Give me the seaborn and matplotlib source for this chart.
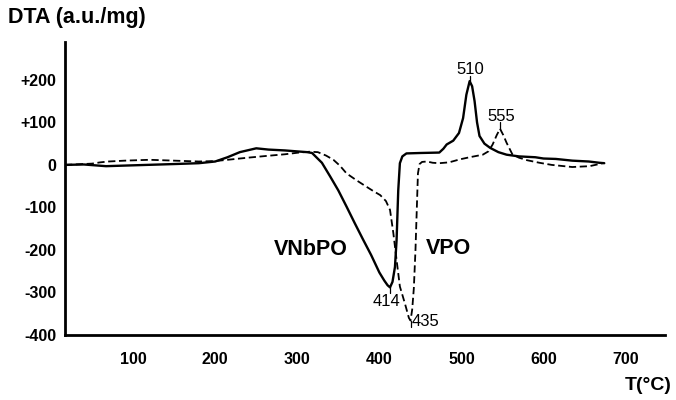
import matplotlib
matplotlib.use("Agg")
import matplotlib.pyplot as plt
import seaborn as sns
import pandas as pd

# VNbPO (solid)
t_vnbpo = [17, 40, 67, 100, 150, 180, 200, 215, 230, 250, 265, 285, 305, 312, 318,
           330, 340, 350, 360, 370, 380, 390, 400, 406, 410, 413, 416, 419, 421, 423,
           425, 428, 433, 450, 473, 478, 482, 490, 497, 502, 506, 510, 513, 516, 519,
           522, 528, 535, 545, 555, 570, 590, 600, 615, 635, 655, 668, 674]
dta_vnbpo = [0, 1, -3, -1, 2, 4, 8, 18, 30, 39, 36, 34, 31, 30, 28,
             5, -27, -60, -98, -137, -175, -212, -253, -272, -283, -288, -275, -240, -176, -60,
             4, 20, 27, 28, 29, 38, 48, 57, 75, 110, 165, 197, 185, 150, 100,
             68, 50, 40, 30, 24, 20, 18, 15, 14, 10, 8, 5, 4]

# VPO (dashed)
t_vpo = [17, 50, 60, 70, 90, 120, 150, 180, 200, 220, 240, 262, 285, 302, 315, 325,
         335, 344, 352, 360, 372, 384, 393, 401, 408, 413, 417, 421, 425, 431, 436,
         438, 440, 442, 444, 445.5, 447, 449, 452, 458, 465, 473, 485, 498, 510, 526,
         533, 538, 543, 547, 551, 555, 562, 570, 580, 595, 610, 635, 656, 668, 674]
dta_vpo = [0, 3, 6, 8, 10, 12, 10, 8, 9, 13, 17, 21, 25, 29, 31, 30,
           22, 12, -2, -20, -36, -51, -62, -71, -85, -106, -160, -224, -286, -325, -360,
           -366, -340, -290, -200, -110, -20, 2, 7, 8, 5, 4, 6, 13, 18, 24,
           32, 48, 70, 85, 70, 52, 25, 17, 11, 5, 0, -5, -3, 2, 5]

x_ticks = [100, 200, 300, 400, 500, 600, 700]
y_ticks = [200, 100, 0, -100, -200, -300, -400]
y_tick_labels = ["+200", "+100", "0", "-100", "-200", "-300", "-400"]

peak_labels = ["510", "555", "414", "435"]
series_names = ["VNbPO", "VPO"]

sns.set_theme(style="white")
plt.rcParams["font.family"] = ["Liberation Sans", "DejaVu Sans"]
plt.rcParams["text.color"] = "black"
plt.rcParams["axes.labelcolor"] = "black"
plt.rcParams["xtick.color"] = "black"
plt.rcParams["ytick.color"] = "black"

fig = plt.figure(figsize=(6.76, 4.0), dpi=100)
ax = fig.add_axes([65 / 676, 1 - 335 / 400, 600 / 676, 293 / 400])

df1 = pd.DataFrame({"T": t_vnbpo, "DTA": dta_vnbpo})
df2 = pd.DataFrame({"T": t_vpo, "DTA": dta_vpo})
sns.lineplot(data=df1, x="T", y="DTA", ax=ax, color="black", lw=1.7, sort=False,
             estimator=None)
sns.lineplot(data=df2, x="T", y="DTA", ax=ax, color="black", lw=1.3, sort=False,
             estimator=None, linestyle=(0, (4.0, 2.0)))

ax.set_xlim(17, 748)
ax.set_ylim(-400, 289)
ax.set_xticks(x_ticks)
ax.set_xticklabels([str(v) for v in x_ticks], fontsize=11.5, fontweight="bold",
                   color="black")
ax.set_yticks(y_ticks)
ax.set_yticklabels(y_tick_labels, fontsize=11.5, fontweight="bold", color="black")
ax.set_xlabel("")
ax.set_ylabel("")

for side in ["top", "right"]:
    ax.spines[side].set_visible(False)
for side in ["left", "bottom"]:
    ax.spines[side].set_linewidth(2.0)
    ax.spines[side].set_color("black")
ax.tick_params(axis="both", direction="out", length=4, width=1.5, colors="black")
ax.tick_params(axis="x", pad=8)
ax.tick_params(axis="y", pad=2)
ax.grid(False)

# peak annotations
ax.plot([511, 511], [197, 210], color="black", lw=0.9)
ax.text(511, 224, peak_labels[0], ha="center", va="center", fontsize=12, color="black")
ax.plot([547, 547], [85, 102], color="black", lw=0.9)
ax.text(548, 114, peak_labels[1], ha="center", va="center", fontsize=12, color="black")
ax.plot([413, 413], [-288, -302], color="black", lw=0.9)
ax.text(409, -322, peak_labels[2], ha="center", va="center", fontsize=12, color="black")
ax.plot([438, 438], [-366, -382], color="black", lw=0.9)
ax.text(456, -369, peak_labels[3], ha="center", va="center", fontsize=12, color="black")

ax.text(316, -200, series_names[0], ha="center", va="center", fontsize=15.5,
        fontweight="bold", color="black")
ax.text(484, -197, series_names[1], ha="center", va="center", fontsize=15.5,
        fontweight="bold", color="black")

fig.text(8 / 676, 1 - 18 / 400, "DTA (a.u./mg)", ha="left", va="center",
         fontsize=15.5, fontweight="bold", color="black")
fig.text(672 / 676, 1 - 385 / 400, "T(°C)", ha="right", va="center",
         fontsize=14, fontweight="bold", color="black")

fig.savefig("out.png", dpi=100)
